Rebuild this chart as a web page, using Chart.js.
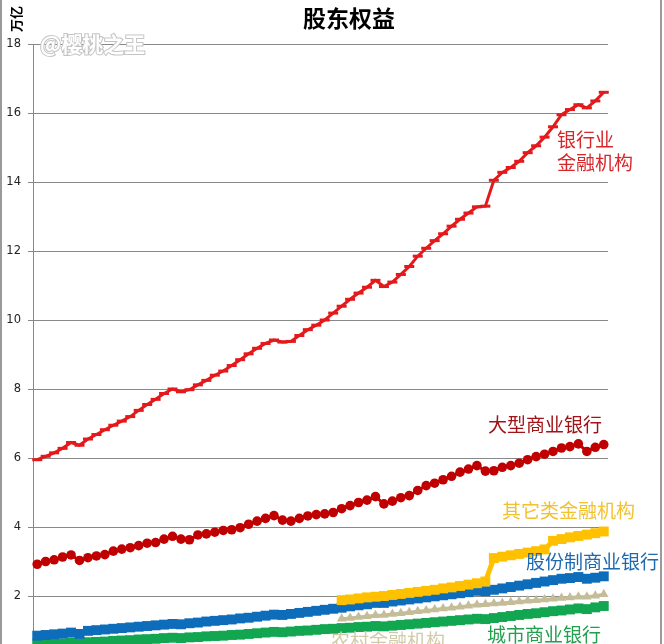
<!DOCTYPE html>
<html>
<head>
<meta charset="utf-8">
<script src="https://cdn.jsdelivr.net/npm/chart.js@4.4.1/dist/chart.umd.min.js"></script>
<style>
    html, body { margin: 0; padding: 0; background: #fff; overflow: hidden; width: 664px; height: 644px; }
    canvas { display: block; }
</style>
</head>
<body>
<canvas id="chart1" width="664" height="700"></canvas>
<script>
// 月份（横轴，图中被裁掉未显示）
var months = [
    '2010-01', '2010-02', '2010-03', '2010-04', '2010-05', '2010-06', '2010-07', '2010-08', '2010-09', '2010-10', '2010-11', '2010-12',
    '2011-01', '2011-02', '2011-03', '2011-04', '2011-05', '2011-06', '2011-07', '2011-08', '2011-09', '2011-10', '2011-11', '2011-12',
    '2012-01', '2012-02', '2012-03', '2012-04', '2012-05', '2012-06', '2012-07', '2012-08', '2012-09', '2012-10', '2012-11', '2012-12',
    '2013-01', '2013-02', '2013-03', '2013-04', '2013-05', '2013-06', '2013-07', '2013-08', '2013-09', '2013-10', '2013-11', '2013-12',
    '2014-01', '2014-02', '2014-03', '2014-04', '2014-05', '2014-06', '2014-07', '2014-08', '2014-09', '2014-10', '2014-11', '2014-12',
    '2015-01', '2015-02', '2015-03', '2015-04', '2015-05', '2015-06', '2015-07', '2015-08'
];

// 单位：万亿
var bankAll = [
    5.95, 6.05, 6.15, 6.28, 6.45, 6.37, 6.55, 6.68, 6.82, 6.95, 7.07, 7.2,
    7.38, 7.55, 7.7, 7.87, 8.0, 7.92, 7.98, 8.12, 8.25, 8.4, 8.52, 8.68,
    8.85, 9.02, 9.18, 9.32, 9.42, 9.36, 9.38, 9.55, 9.72, 9.85, 10.0, 10.2,
    10.4, 10.6, 10.78, 10.95, 11.15, 10.97, 11.1, 11.32, 11.55, 11.85, 12.08, 12.3,
    12.5, 12.72, 12.92, 13.1, 13.28, 13.3, 14.05, 14.28, 14.42, 14.6, 14.85, 15.05,
    15.3, 15.6, 15.95, 16.1, 16.24, 16.15, 16.35, 16.6
];
var bigBanks = [
    2.92, 3.0, 3.05, 3.13, 3.19, 3.03, 3.11, 3.16, 3.2, 3.3, 3.36, 3.4,
    3.46, 3.53, 3.55, 3.65, 3.73, 3.65, 3.63, 3.77, 3.8, 3.85, 3.9, 3.92,
    3.98, 4.08, 4.17, 4.25, 4.33, 4.2, 4.17, 4.25, 4.32, 4.36, 4.38, 4.42,
    4.53, 4.62, 4.71, 4.78, 4.88, 4.67, 4.75, 4.85, 4.91, 5.06, 5.2, 5.27,
    5.37, 5.47, 5.59, 5.68, 5.78, 5.62, 5.63, 5.73, 5.78, 5.85, 5.95, 6.04,
    6.11, 6.19, 6.29, 6.33, 6.41, 6.19, 6.31, 6.39
];
var otherInst = [
    null, null, null, null, null, null, null, null, null, null, null, null,
    null, null, null, null, null, null, null, null, null, null, null, null,
    null, null, null, null, null, null, null, null, null, null, null, null,
    1.88, 1.9, 1.93, 1.96, 1.98, 2.0, 2.03, 2.06, 2.09, 2.12, 2.15, 2.18,
    2.22, 2.25, 2.29, 2.33, 2.37, 2.42, 3.1, 3.14, 3.18, 3.22, 3.26, 3.3,
    3.35, 3.6, 3.65, 3.7, 3.74, 3.78, 3.82, 3.87
];
var jointStock = [
    0.85, 0.87, 0.89, 0.91, 0.94, 0.9, 0.99, 1.01, 1.03, 1.05, 1.07, 1.09,
    1.11, 1.13, 1.15, 1.17, 1.19, 1.18, 1.21, 1.23, 1.26, 1.28, 1.3, 1.32,
    1.35, 1.37, 1.4, 1.43, 1.46, 1.45, 1.48, 1.51, 1.54, 1.57, 1.6, 1.63,
    1.66, 1.7, 1.73, 1.76, 1.8, 1.8, 1.84, 1.87, 1.9, 1.93, 1.96, 1.99,
    2.02, 2.05, 2.08, 2.11, 2.15, 2.14, 2.18, 2.22, 2.26, 2.3, 2.34, 2.38,
    2.42, 2.46, 2.5, 2.52, 2.55, 2.5, 2.53, 2.57
];
var cityBanks = [
    0.6, 0.61, 0.62, 0.63, 0.65, 0.63, 0.66, 0.67, 0.68, 0.7, 0.71, 0.72,
    0.74, 0.75, 0.76, 0.78, 0.79, 0.78, 0.8, 0.81, 0.83, 0.84, 0.85, 0.87,
    0.88, 0.9, 0.92, 0.94, 0.96, 0.95, 0.97, 0.99, 1.0, 1.02, 1.04, 1.05,
    1.07, 1.08, 1.1, 1.11, 1.13, 1.12, 1.14, 1.16, 1.18, 1.2, 1.22, 1.24,
    1.26, 1.28, 1.3, 1.32, 1.34, 1.33, 1.36, 1.39, 1.42, 1.45, 1.48, 1.5,
    1.53, 1.56, 1.58, 1.61, 1.64, 1.62, 1.67, 1.71
];
var ruralInst = [
    null, null, null, null, null, null, null, null, null, null, null, null,
    null, null, null, null, null, null, null, null, null, null, null, null,
    null, null, null, null, null, null, null, null, null, null, null, null,
    1.34, 1.36, 1.39, 1.41, 1.44, 1.45, 1.48, 1.5, 1.53, 1.56, 1.58, 1.61,
    1.64, 1.66, 1.69, 1.72, 1.75, 1.76, 1.78, 1.8, 1.82, 1.84, 1.86, 1.88,
    1.9, 1.92, 1.94, 1.96, 1.98, 1.98, 2.01, 2.05
];
var yTicks = [0, 2, 4, 6, 8, 10, 12, 14, 16, 18];

var cjk = '"Noto Sans CJK SC", sans-serif';

// 图中的系列标注
var seriesNotes = [
    { lines: ['银行业', '金融机构'], color: '#D8262A', x: 557, y: 140 },
    { lines: ['大型商业银行'], color: '#A01418', x: 488, y: 425 },
    { lines: ['其它类金融机构'], color: '#F2C12E', x: 502, y: 511 },
    { lines: ['股份制商业银行'], color: '#1F6AAE', x: 526, y: 562 },
    { lines: ['城市商业银行'], color: '#22A04E', x: 487, y: 635 },
    { lines: ['农村金融机构'], color: '#D2CBAA', x: 331, y: 641 }
];

var decor = {
    id: 'decor',
    afterDraw: function (chart) {
        var ctx = chart.ctx;
        ctx.save();

        // 外框
        ctx.fillStyle = '#9a9a9a';
        ctx.fillRect(0, 0, 2, 644);
        ctx.fillRect(660, 0, 2, 644);

        // 标题
        ctx.fillStyle = '#000';
        ctx.textAlign = 'center';
        ctx.textBaseline = 'middle';
        ctx.font = 'bold 23px ' + cjk;
        ctx.fillText('股东权益', 349, 18);

        // 单位
        ctx.save();
        ctx.translate(16, 19);
        ctx.rotate(-Math.PI / 2);
        ctx.font = 'bold 13px ' + cjk;
        ctx.fillText('万亿', 0, 0);
        ctx.restore();

        // 水印
        ctx.textAlign = 'left';
        ctx.font = 'bold 21px ' + cjk;
        ctx.lineWidth = 2;
        ctx.strokeStyle = '#c4c4c4';
        ctx.strokeText('@樱桃之王', 40, 44);
        ctx.fillStyle = '#fff';
        ctx.fillText('@樱桃之王', 40, 44);

        // 系列名
        ctx.font = '19px ' + cjk;
        seriesNotes.forEach(function (n) {
            ctx.fillStyle = n.color;
            n.lines.forEach(function (t, i) {
                ctx.fillText(t, n.x, n.y + i * 23);
            });
        });

        ctx.restore();
    }
};

var chart1 = new Chart(document.getElementById('chart1'), {
    type: 'line',
    data: {
        labels: months,
        datasets: [
            {
                label: '银行业金融机构',
                data: bankAll,
                borderColor: '#E3191B',
                borderWidth: 3,
                pointStyle: 'line',
                pointRadius: 5,
                pointBorderWidth: 3,
                pointBorderColor: '#E3191B',
                pointBackgroundColor: '#E3191B',
            },
            {
                label: '大型商业银行',
                data: bigBanks,
                borderColor: '#C00000',
                borderWidth: 3,
                pointStyle: 'circle',
                pointRadius: 4.8,
                pointBorderWidth: 0,
                pointBackgroundColor: '#C00000',
            },
            {
                label: '其它类金融机构',
                data: otherInst,
                borderColor: '#FFC000',
                borderWidth: 5,
                pointStyle: 'rect',
                pointRadius: 7,
                pointBorderWidth: 0,
                pointBackgroundColor: '#FFC000',
            },
            {
                label: '股份制商业银行',
                data: jointStock,
                borderColor: '#0E6DBA',
                borderWidth: 5,
                pointStyle: 'rect',
                pointRadius: 7,
                pointBorderWidth: 0,
                pointBackgroundColor: '#0E6DBA',
            },
            {
                label: '城市商业银行',
                data: cityBanks,
                borderColor: '#12A651',
                borderWidth: 5,
                pointStyle: 'rect',
                pointRadius: 7,
                pointBorderWidth: 0,
                pointBackgroundColor: '#12A651',
            },
            {
                label: '农村金融机构',
                data: ruralInst,
                borderColor: '#C4BD97',
                borderWidth: 3,
                pointStyle: 'triangle',
                pointRadius: 5.5,
                pointBorderWidth: 0,
                pointBackgroundColor: '#C4BD97',
            },
        ],
    },
    options: {
        responsive: false,
        animation: false,
        devicePixelRatio: 1,
        layout: { padding: { top: 44, right: 56, bottom: 35, left: 0 } },
        plugins: {
            legend: { display: false },
            title: { display: false },
            tooltip: { enabled: false },
        },
        elements: { line: { tension: 0 } },
        scales: {
            x: {
                display: false,
                offset: true,
            },
            y: {
                min: 0,
                max: 18,
                afterBuildTicks: function (scale) {
                    scale.ticks = yTicks.map(function (v) { return { value: v }; });
                },
                afterFit: function (scale) { scale.width = 33; },
                grid: { color: '#888', lineWidth: 1, tickLength: 5, drawTicks: true },
                border: { display: true, color: '#888', width: 1 },
                ticks: {
                    padding: 7,
                    color: '#222',
                    font: { family: '"DejaVu Sans"', size: 11.5 },
                },
            },
        },
    },
    plugins: [decor],
});
</script>
</body>
</html>
